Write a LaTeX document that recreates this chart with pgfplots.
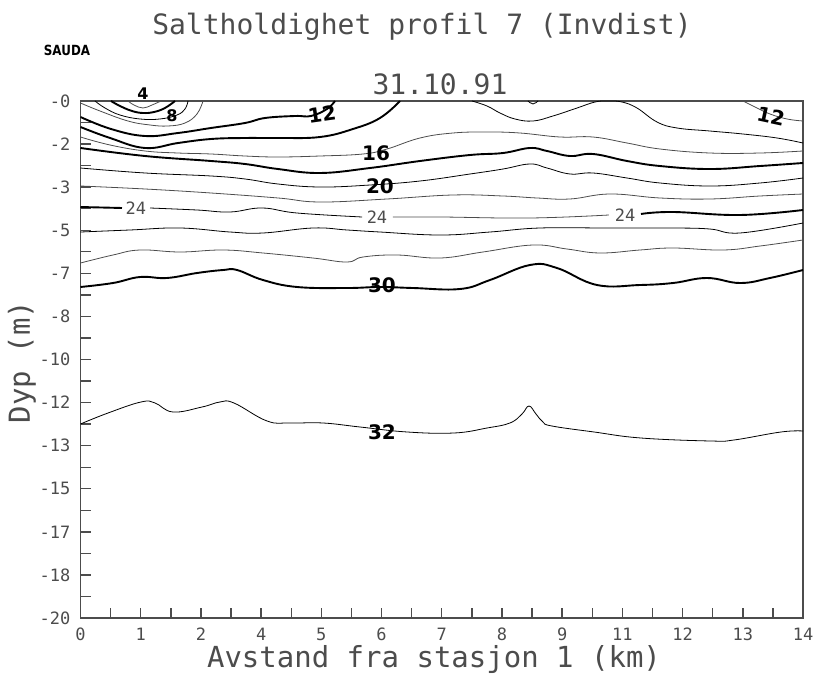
\documentclass[border=0pt]{standalone}
\usepackage{fontspec}
\setmonofont{DejaVu Sans Mono}
\newfontfamily\hand{DejaVu Sans}
\usepackage{pgfplots}
\pgfplotsset{compat=1.18}
\definecolor{ink}{gray}{0.3}
\begin{document}
\begin{tikzpicture}
\begin{axis}[
  scale only axis, width=361.25pt, height=258.5pt,
  xmin=0, xmax=14, ymin=-20, ymax=0,
  axis line style={ink, line width=0.8pt},
  tick style={ink, line width=0.7pt},
  tick align=inside, tick pos=left,
  major tick length=5pt, minor tick length=5pt,
  xtick={0,1.16667,2.33333,3.5,4.66667,5.83333,7,8.16667,9.33333,10.5,11.66667,12.83333,14},
  xticklabels={0,1,2,4,5,6,7,8,9,11,12,13,14},
  minor xtick={0.58333,1.75,2.91667,4.08333,5.25,6.41667,7.58333,8.75,9.91667,11.08333,12.25,13.41667},
  ytick={-20,-18.33333,-16.66667,-15,-13.33333,-11.66667,-10,-8.33333,-6.66667,-5,-3.33333,-1.66667,0},
  yticklabels={-20,-18,-17,-15,-13,-12,-10,-8,-7,-5,-3,-2,-0},
  minor ytick={-19.16667,-17.5,-15.83333,-14.16667,-12.5,-10.83333,-9.16667,-7.5,-5.83333,-4.16667,-2.5,-0.83333},
  /pgf/number format/assume math mode=true,
  ticklabel style={font=\ttfamily\fontsize{8.5}{10}\selectfont, text=ink},
  yticklabel style={xshift=-1.5pt},
  xticklabel style={yshift=-1.5pt},
  xlabel={Avstand fra stasjon 1 (km)},
  ylabel={Dyp (m)},
  label style={font=\ttfamily\fontsize{14.5}{16}\selectfont, text=ink},
  xlabel style={at={(axis description cs:0.4893,-0.0967)}, anchor=base},
  ylabel style={at={(axis description cs:-0.0699,0.495)}, anchor=base},
  cycle list={{ink, line width=0.95pt, mark=none}},
  every axis plot post/.append style={smooth, tension=0.7},
]
% contour 4
\addplot coordinates {(0.920,0) (1.037,-0.155) (1.211,-0.271) (1.385,-0.155) (1.560,0)};
% contour 6
\addplot coordinates {(0.591,0) (0.765,-0.193) (0.998,-0.387) (1.211,-0.464) (1.424,-0.426) (1.637,-0.271) (1.831,0)};
% contour 8
\addplot coordinates {(0.281,0) (0.475,-0.271) (0.765,-0.542) (1.153,-0.696) (1.540,-0.696) (1.870,-0.542) (2.025,-0.309) (2.083,0)};
% contour 10
\addplot coordinates {(0,-0.077) (0.378,-0.387) (0.920,-0.774) (1.347,-0.928) (1.696,-0.967) (2.025,-0.851) (2.257,-0.503) (2.374,0)};
% contour 12 (left)
\addplot coordinates {(0,-0.619) (0.591,-1.083) (1.250,-1.354) (1.889,-1.238) (2.529,-1.044) (3.187,-0.851) (3.575,-0.658) (4.156,-0.580) (4.466,-0.580) (4.776,-0.309) (4.931,0)};
% contour 12 (small bump)
\addplot coordinates {(8.671,0) (8.768,-0.116) (8.865,0)};
% contour 12 (right)
\addplot coordinates {(12.837,0) (13.070,-0.232) (13.361,-0.503) (13.690,-0.696) (14,-0.774)};
% contour 14 (left)
\addplot coordinates {(0,-1.006) (0.572,-1.431) (1.250,-1.818) (1.889,-1.625) (2.529,-1.470) (3.187,-1.431) (3.827,-1.431) (4.641,-1.393) (5.280,-1.083) (5.803,-0.658) (6.191,0)};
% contour 14 (right)
\addplot coordinates {(7.586,0) (7.877,-0.193) (8.129,-0.464) (8.419,-0.696) (8.768,-0.774) (9.155,-0.580) (9.621,-0.271) (9.970,-0.039) (10.221,0) (10.492,-0.039) (10.783,-0.271) (11.171,-0.812) (11.558,-1.044) (12.197,-1.161) (12.837,-1.277) (13.496,-1.431) (14,-1.625)};
% contour 16
\addplot coordinates {(0,-1.393) (0.572,-1.702) (1.250,-1.934) (1.889,-2.012) (2.529,-2.050) (3.187,-2.128) (3.827,-2.166) (4.641,-2.128) (5.474,-2.050) (5.939,-1.857) (6.579,-1.431) (7.218,-1.238) (7.877,-1.199) (8.516,-1.238) (9.291,-1.393) (9.931,-1.393) (10.590,-1.625) (11.229,-1.857) (12.197,-2.012) (13.167,-2.012) (14,-1.934)};
% contour 18
\addplot coordinates {(0,-1.818) (1.250,-2.128) (2.529,-2.321) (3.187,-2.437) (3.827,-2.631) (4.641,-2.785) (5.610,-2.592) (6.579,-2.321) (7.548,-2.089) (8.187,-2.012) (8.710,-1.818) (9.039,-1.934) (9.485,-2.128) (9.931,-2.050) (10.590,-2.321) (11.229,-2.515) (12.197,-2.631) (13.167,-2.515) (14,-2.398)};
% contour 20
\addplot coordinates {(0,-2.592) (1.250,-2.785) (2.529,-2.901) (3.187,-3.017) (3.827,-3.211) (4.641,-3.327) (5.610,-3.250) (6.579,-3.095) (7.548,-2.824) (8.187,-2.631) (8.710,-2.437) (9.039,-2.592) (9.485,-2.824) (9.931,-2.785) (10.590,-2.979) (11.229,-3.172) (12.197,-3.288) (13.167,-3.172) (14,-2.979)};
% contour 22
\addplot coordinates {(0,-3.288) (1.250,-3.404) (2.529,-3.559) (3.827,-3.752) (4.641,-3.907) (5.939,-3.791) (7.218,-3.636) (8.187,-3.675) (8.845,-3.752) (9.485,-3.791) (10.260,-3.598) (11.229,-3.752) (12.197,-3.791) (13.167,-3.675) (14,-3.598)};
% contour 24 (four pieces, gaps for labels)
\addplot coordinates {(0,-4.101) (0.804,-4.139)};
\addplot coordinates {(1.347,-4.139) (2.257,-4.217) (2.897,-4.294) (3.517,-4.139) (4.195,-4.333) (5.455,-4.487)};
\addplot coordinates {(6.055,-4.487) (6.966,-4.487) (8.710,-4.526) (10.240,-4.410)};
\addplot coordinates {(10.861,-4.371) (11.481,-4.294) (12.779,-4.410) (14,-4.217)};
% contour 26
\addplot coordinates {(0,-5.068) (0.959,-4.990) (1.928,-4.913) (2.897,-5.068) (3.536,-5.106) (4.505,-4.913) (5.164,-4.990) (5.803,-5.068) (6.966,-5.184) (7.935,-5.068) (8.903,-4.913) (10.202,-4.913) (11.481,-4.913) (12.197,-4.952) (12.779,-5.106) (14,-4.720)};
% contour 28
\addplot coordinates {(0,-6.267) (0.630,-5.957) (1.153,-5.764) (1.928,-5.841) (2.761,-5.764) (3.536,-5.880) (4.505,-6.074) (5.164,-6.228) (5.474,-6.035) (6.133,-5.957) (6.966,-6.074) (7.799,-5.841) (8.768,-5.571) (9.427,-5.726) (10.066,-5.880) (10.841,-5.764) (11.481,-5.687) (12.449,-5.764) (13.167,-5.610) (14,-5.377)};
% contour 30
\addplot coordinates {(0,-7.195) (0.630,-7.041) (1.153,-6.809) (1.676,-6.847) (2.257,-6.654) (2.761,-6.538) (3.033,-6.538) (3.536,-6.925) (4.195,-7.195) (5.164,-7.234) (5.803,-7.195) (6.443,-7.234) (7.354,-7.273) (7.935,-6.925) (8.710,-6.344) (9.233,-6.460) (10.008,-7.118) (10.841,-7.118) (11.481,-7.041) (12.139,-6.847) (12.779,-7.041) (13.361,-6.847) (14,-6.538)};
% contour 32
\addplot coordinates {(0,-12.495) (0.533,-12.070) (1.172,-11.644) (1.444,-11.683) (1.792,-12.031) (2.354,-11.838) (2.703,-11.644) (2.974,-11.683) (3.614,-12.379) (4.059,-12.456) (4.699,-12.456) (5.416,-12.611) (6.327,-12.804) (7.238,-12.843) (7.877,-12.650) (8.322,-12.456) (8.555,-12.108) (8.690,-11.799) (8.826,-12.108) (8.961,-12.418) (9.136,-12.573) (9.950,-12.804) (10.861,-13.037) (12.216,-13.153) (12.662,-13.114) (13.574,-12.804) (14,-12.766)};
% printed labels
\node[font=\ttfamily\fontsize{8.5}{10}\selectfont, text=ink] at (axis cs:1.075,-4.139) {24};
\node[font=\ttfamily\fontsize{8.5}{10}\selectfont, text=ink] at (axis cs:5.745,-4.487) {24};
\node[font=\ttfamily\fontsize{8.5}{10}\selectfont, text=ink] at (axis cs:10.551,-4.410) {24};
% handwritten labels
\node[font=\hand\bfseries\fontsize{8}{9}\selectfont] at (axis cs:1.773,-0.580) {8};
\node[font=\hand\bfseries\fontsize{10}{12}\selectfont, rotate=8] at (axis cs:4.679,-0.503) {12};
\node[font=\hand\bfseries\fontsize{10}{12}\selectfont] at (axis cs:5.726,-2.012) {16};
\node[font=\hand\bfseries\fontsize{10}{12}\selectfont] at (axis cs:5.803,-3.288) {20};
\node[font=\hand\bfseries\fontsize{10}{12}\selectfont] at (axis cs:5.842,-7.118) {30};
\node[font=\hand\bfseries\fontsize{10}{12}\selectfont] at (axis cs:5.842,-12.804) {32};
\node[font=\hand\bfseries\fontsize{10}{12}\selectfont, rotate=-12] at (axis cs:13.38,-0.58) {12};
\end{axis}
\node[font=\ttfamily\fontsize{14}{16}\selectfont, text=ink, anchor=base] at (170.75pt,291.5pt) {Saltholdighet profil 7 (Invdist)};
\node[font=\ttfamily\fontsize{14}{16}\selectfont, text=ink, anchor=base] at (179.75pt,261.5pt) {31.10.91};
\node[font=\hand\bfseries\fontsize{7}{8}\selectfont, xscale=0.85, anchor=base] at (-6.75pt,281pt) {SAUDA};
\node[font=\hand\bfseries\fontsize{8}{9}\selectfont, anchor=base] at (31.25pt,259pt) {4};
\node[font=\hand\bfseries\fontsize{8}{9}\selectfont, anchor=base west] at (363.5pt,283pt) {N};
\pgfresetboundingbox
\path[use as bounding box] (-40.25pt,-28.5pt) rectangle (366.25pt,309pt);
\end{tikzpicture}
\end{document}
